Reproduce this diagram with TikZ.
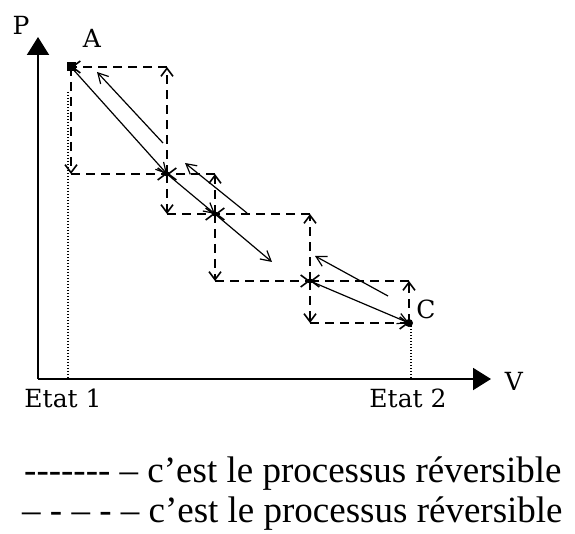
\documentclass[tikz,border=0pt]{standalone}
\usepackage{fontspec}
\setmainfont{Liberation Serif}
\newfontfamily\plotfont{DejaVu Serif}
\usetikzlibrary{arrows.meta}
\begin{document}
\begin{tikzpicture}[x=1pt,y=-1pt,
  axisline/.style={line width=2pt,-{Triangle[length=18pt,width=22pt]}},
  irrev/.style={line width=1.6pt,dash pattern=on 9pt off 6pt,-{Straight Barb[length=8pt,width=12pt]}},
  rev/.style={line width=1.2pt,-{Straight Barb[length=10pt,width=11pt]}},
  guide/.style={line width=1.4pt,dash pattern=on 1.4pt off 1.6pt},
  dot/.style={fill=black,inner sep=0pt,minimum size=#1},
  lab/.style={font=\plotfont\fontsize{25}{28}\selectfont,inner sep=0pt},
  legend/.style={font=\fontsize{37}{42}\selectfont,inner sep=0pt,anchor=base west}]
\useasboundingbox (0,0) rectangle (575,534);
% axes
\coordinate (O) at (38,379);
\coordinate (Ptip) at (38,37);
\coordinate (Vtip) at (491,379);
\draw[axisline] (O) -- (Ptip);
\draw[axisline] (O) -- (Vtip);
% states
\coordinate (A) at (71,67);
\coordinate (B1) at (167,174);
\coordinate (B2) at (215,214);
\coordinate (B3) at (310,281);
\coordinate (C) at (409,323);
% dotted guides
\draw[guide] ([xshift=-3pt,yshift=-25pt]A) -- ([xshift=-3pt]A |- O);
\draw[guide] ([xshift=2pt]C) -- ([xshift=2pt]C |- O);
% irreversible staircase
\foreach \X/\Y in {A/B1,B1/B2,B2/B3,B3/C}{
  \draw[irrev] (\X) -- (\X |- \Y);
  \draw[irrev] (\X |- \Y) -- (\Y);
  \draw[irrev] (\Y) -- (\Y |- \X);
  \draw[irrev] (\Y |- \X) -- (\X);
}
% reversible, forward
\coordinate (M) at (272,262);
\draw[rev] (A) -- (B1);
\draw[rev] (B1) -- (B2);
\draw[rev] (B2) -- (M);
\draw[rev] (B3) -- (C);
% reversible, backward
\coordinate (r1s) at (163,143); \coordinate (r1e) at (97,72);
\coordinate (r2s) at (247,213); \coordinate (r2e) at (185,163);
\coordinate (r3s) at (388,296); \coordinate (r3e) at (315,256);
\draw[rev] (r1s) -- (r1e);
\draw[rev] (r2s) -- (r2e);
\draw[rev] (r3s) -- (r3e);
% dots
\node[dot=9pt] (dA) at (A) {};
\node[dot=5pt,circle] (dB1) at (B1) {};
\node[dot=5pt,circle] (dB2) at (B2) {};
\node[dot=5pt,circle] (dB3) at (B3) {};
\node[dot=8pt,circle] (dC) at (C) {};
% labels
\node[lab] (lP) at (21,25) {P};
\node[lab] (lA) at (92,38) {A};
\node[lab] (lC) at (426,309) {C};
\node[lab] (lV) at (514,381) {V};
\node[lab,anchor=base] (e1) at (63,407) {Etat 1};
\node[lab,anchor=base] (e2) at (408,407) {Etat 2};
% legend
\node[legend] (leg1) at (24,482) {-{}-{}-{}-{}-{}-{}- – c’est le processus réversible};
\node[legend] (leg2) at (22,522) {– - – - – c’est le processus réversible};
\end{tikzpicture}
\end{document}
